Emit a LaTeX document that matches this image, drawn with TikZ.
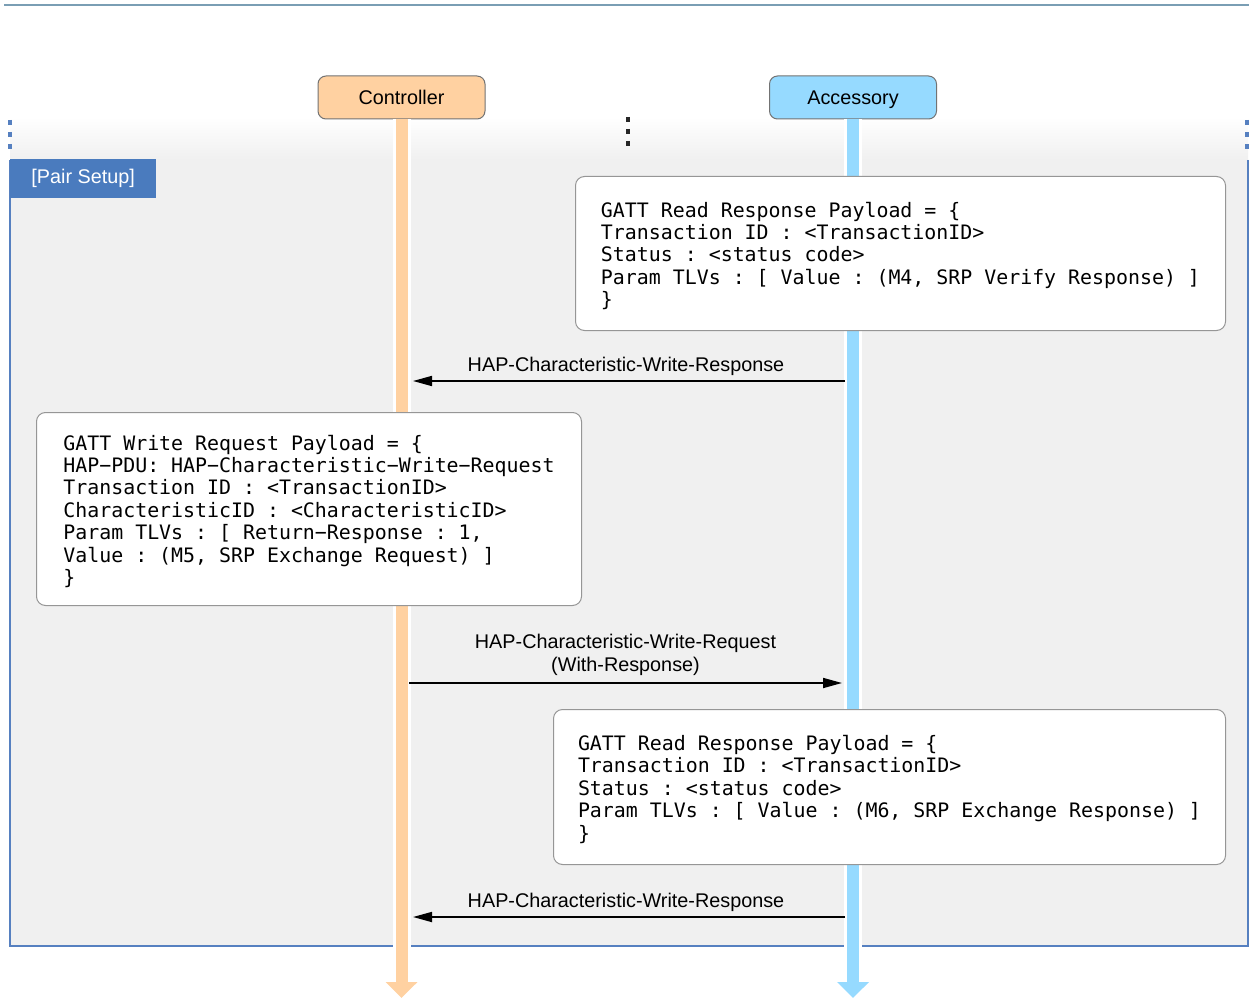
\documentclass[tikz,border=0pt]{standalone}
\usepackage{fontspec}
\setmainfont{Liberation Sans}
\setmonofont{DejaVu Sans Mono}
\usetikzlibrary{arrows.meta,positioning,calc}
\definecolor{ctrlorange}{RGB}{255,209,161}
\definecolor{accblue}{RGB}{150,218,255}
\definecolor{framegray}{RGB}{240,240,240}
\definecolor{frameblue}{RGB}{86,128,192}
\definecolor{tabblue}{RGB}{74,123,190}
\definecolor{topline}{RGB}{122,158,180}
\definecolor{boxgray}{RGB}{115,115,115}
\definecolor{notegray}{RGB}{150,150,150}
\newcommand{\notestrut}{\rule{0pt}{20pt}}
\tikzset{
  labelfont/.style={font=\fontsize{19.8}{23}\selectfont},
  actor/.style={shape=rectangle, rounded corners=8pt, draw=boxgray, line width=1pt, minimum width=167pt, minimum height=43pt, text height=16pt, text depth=1pt, labelfont},
  halo/.style={line width=18pt, draw=white},
  lifeline/.style={line width=12pt, draw=#1, -{Triangle[length=16pt,width=31pt]}},
  note/.style={shape=rectangle, rounded corners=9pt, draw=notegray, fill=white, line width=1pt, align=left, anchor=north west, inner sep=0pt, font=\fontsize{19.9}{22.4}\selectfont\ttfamily},
  msg/.style={-{Triangle[length=19pt,width=10pt]}, line width=1.7pt, draw=black},
  msglabel/.style={labelfont, inner sep=0pt, align=center},
  grouptab/.style={shape=rectangle, fill=tabblue, text=white, minimum width=146pt, minimum height=39pt, inner sep=0pt, labelfont},
  groupdots/.style={draw=frameblue, line width=4pt, dash pattern=on 5pt off 7pt},
  moredots/.style={draw=black!85, line width=4.5pt, dash pattern=on 5pt off 7pt}
}
\begin{document}
\begin{tikzpicture}[x=1pt, y=-1pt]
  \useasboundingbox (0,0) rectangle (1249,1000);
  \fill[white] (0,0) rectangle (1249,1000);
  \draw[topline, line width=2pt] (4,5) -- (1249,5);

  % pair setup group
  \shade[top color=white, bottom color=framegray] (10,117) rectangle (1248,160);
  \fill[framegray] (10,160) rectangle (1248,946);
  \draw[frameblue, line width=1.3pt] (10,160) -- (10,946);
  \draw[frameblue, line width=1.3pt] (1248,160) -- (1248,946);
  \draw[frameblue, line width=2.6pt] (9.35,946) -- (1248.65,946);
  \draw[groupdots] (10,120) -- (10,150);
  \draw[groupdots] (1247,120) -- (1247,150);
  \draw[moredots] (628,117) -- (628,148);
  \node[grouptab, anchor=north west] (pairtab) at (10,159) {[Pair Setup]};

  \node[actor, fill=ctrlorange] (ctrl) at (401.5,97.5) {Controller};
  \node[actor, fill=accblue] (acc) at (853,97.5) {Accessory};

  \coordinate (ctrlend) at (ctrl |- 0,998);
  \coordinate (accend) at (acc |- 0,998);
  \draw[halo] (ctrl.south) -- (ctrl |- 0,955);
  \draw[halo] (acc.south) -- (acc |- 0,955);
  \draw[lifeline=ctrlorange] (ctrl.south) -- (ctrlend);
  \draw[lifeline=accblue] (acc.south) -- (accend);

  \node[note, minimum width=650pt, minimum height=154pt] (readresp4) at (575,176) {\notestrut GATT Read Response Payload = \{\\Transaction ID : <TransactionID>\\Status : <status code>\\Param TLVs : [ Value : (M4, SRP Verify Response) ]\\\}};
  \node[note, minimum width=545pt, minimum height=193pt] (writereq5) at (36,412) {\notestrut GATT Write Request Payload = \{\\HAP−PDU: HAP−Characteristic−Write−Request\\Transaction ID : <TransactionID>\\CharacteristicID : <CharacteristicID>\\Param TLVs : [ Return−Response : 1,\\Value : (M5, SRP Exchange Request) ]\\\}};
  \node[note, minimum width=672pt, minimum height=155pt] (readresp6) at (553,709) {\notestrut GATT Read Response Payload = \{\\Transaction ID : <TransactionID>\\Status : <status code>\\Param TLVs : [ Value : (M6, SRP Exchange Response) ]\\\}};

  \coordinate (resp4acc) at ($(acc |- 0,381)+(-8,0)$);
  \coordinate (resp4ctrl) at ($(ctrl |- 0,381)+(11.5,0)$);
  \coordinate (req5ctrl) at ($(ctrl |- 0,683)+(7.5,0)$);
  \coordinate (req5acc) at ($(acc |- 0,683)+(-11,0)$);
  \coordinate (resp6acc) at ($(acc |- 0,917)+(-8,0)$);
  \coordinate (resp6ctrl) at ($(ctrl |- 0,917)+(11.5,0)$);

  \draw[msg] (resp4acc) -- node[msglabel, above=5pt, xshift=-3pt] (resp4label) {HAP-Characteristic-Write-Response} (resp4ctrl);
  \draw[msg] (req5ctrl) -- node[msglabel, above=7pt, xshift=0pt] (req5label) {HAP-Characteristic-Write-Request\\(With-Response)} (req5acc);
  \draw[msg] (resp6acc) -- node[msglabel, above=5pt, xshift=-3pt] (resp6label) {HAP-Characteristic-Write-Response} (resp6ctrl);
\end{tikzpicture}
\end{document}
